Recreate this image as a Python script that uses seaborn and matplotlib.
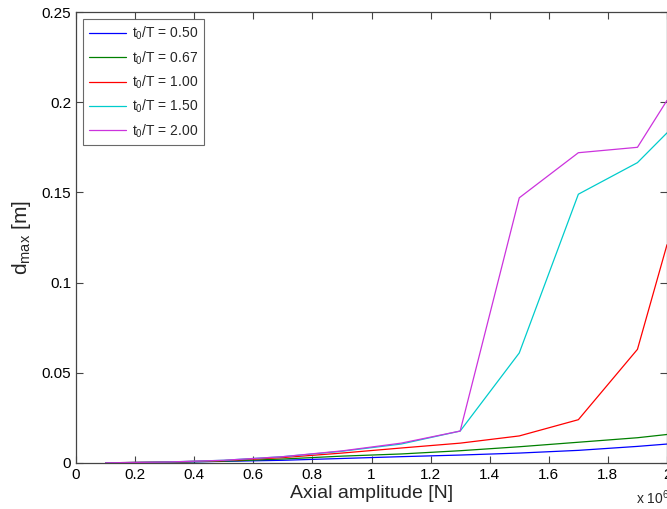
import seaborn as sns
import matplotlib
matplotlib.use('Agg')
import matplotlib.pyplot as plt
import pandas as pd

sns.set_style('ticks')
plt.rcParams['font.family'] = ['Liberation Sans', 'DejaVu Sans']
plt.rcParams['mathtext.fontset'] = 'custom'
plt.rcParams['mathtext.rm'] = 'Liberation Sans'
plt.rcParams['mathtext.it'] = 'Liberation Sans'

# axial amplitude [x 1e6 N]
amp = [0.1, 0.3, 0.5, 0.7, 0.9, 1.1, 1.3, 1.5, 1.7, 1.9, 2.0]
# max displacement [m] for each t0/T
d_050 = [0.0001, 0.0004, 0.0009, 0.0015, 0.0025, 0.0035, 0.0044, 0.0055, 0.0070, 0.0092, 0.0105]
d_067 = [0.0001, 0.0004, 0.0010, 0.0022, 0.0038, 0.0050, 0.0068, 0.0090, 0.0115, 0.0140, 0.0158]
d_100 = [0.0001, 0.0005, 0.0013, 0.0030, 0.0055, 0.0083, 0.0110, 0.0150, 0.0240, 0.0630, 0.1210]
d_150 = [0.0001, 0.0005, 0.0015, 0.0035, 0.0065, 0.0105, 0.0177, 0.0610, 0.1490, 0.1665, 0.1830]
d_200 = [0.0001, 0.0005, 0.0015, 0.0035, 0.0067, 0.0110, 0.0177, 0.1470, 0.1720, 0.1750, 0.2010]
labels = ['0.50', '0.67', '1.00', '1.50', '2.00']
colors = ['#0000ff', '#008000', '#ff0000', '#00cccc', '#cc33dd']

rows = []
for lab, ys in zip(labels, [d_050, d_067, d_100, d_150, d_200]):
    for x, y in zip(amp, ys):
        rows.append({'amp': x, 'd': y, 'ratio': r'$\mathregular{t_0}$/T = ' + lab})
df = pd.DataFrame(rows)

fig = plt.figure(figsize=(6.67, 5.09), dpi=100)
ax = fig.add_axes([0.114, 0.0904, 0.886, 0.886])
sns.lineplot(data=df, x='amp', y='d', hue='ratio', palette=colors, linewidth=0.9, ax=ax)

ax.set_xlim(0, 2)
ax.set_ylim(0, 0.25)
ax.set_xticks([0, 0.2, 0.4, 0.6, 0.8, 1, 1.2, 1.4, 1.6, 1.8, 2])
ax.set_xticklabels(['0', '0.2', '0.4', '0.6', '0.8', '1', '1.2', '1.4', '1.6', '1.8', '2'])
ax.set_yticks([0, 0.05, 0.1, 0.15, 0.2, 0.25])
ax.set_yticklabels(['0', '0.05', '0.1', '0.15', '0.2', '0.25'])
ax.tick_params(direction='in', length=5, width=0.8, labelsize=11, top=True, right=True, colors='#444444', labelcolor='black')
for s in ax.spines.values():
    s.set_color('#444444')
    s.set_linewidth(0.9)
ax.set_xlabel('Axial amplitude [N]', fontsize=14, labelpad=2)
ax.set_ylabel(r'$\mathregular{d_{max}}$ [m]', fontsize=15, labelpad=6)
ax.text(0.948, -0.078, r'x 10$^{\mathregular{6}}$', transform=ax.transAxes, fontsize=10, ha='left', va='center')

leg = ax.legend(loc='upper left', bbox_to_anchor=(0.012, 0.984), borderaxespad=0, fontsize=10, frameon=True,
                fancybox=False, edgecolor='#444444', handlelength=2.7, handletextpad=0.45, borderpad=0.4,
                labelspacing=0.5)
leg.get_frame().set_linewidth(0.8)
leg.set_title(None)

fig.savefig('out.png', dpi=100)
